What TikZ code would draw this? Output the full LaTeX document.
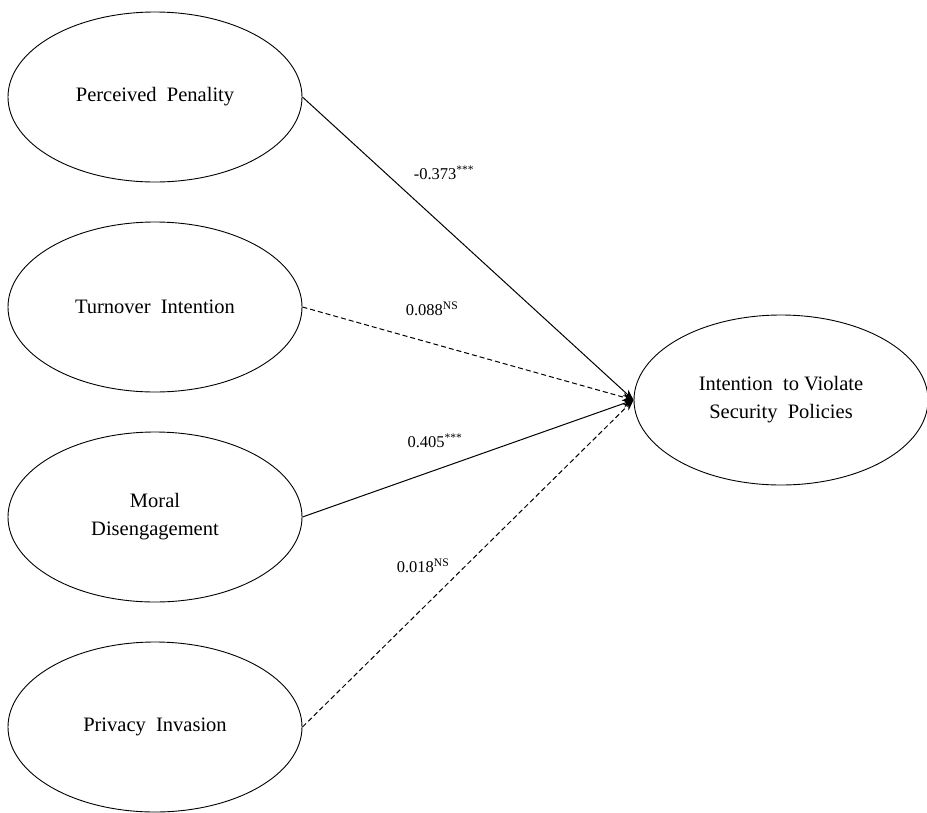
\documentclass[tikz,border=0pt]{standalone}
\usepackage{fontspec}
\setmainfont{Liberation Serif}
\usetikzlibrary{shapes.geometric,arrows.meta}
\begin{document}
\begin{tikzpicture}[x=1pt,y=-1pt,
  latent/.style={ellipse,draw,line width=0.9pt,minimum width=294pt,minimum height=170pt,inner sep=0pt,align=center,font=\fontsize{20.5}{28}\selectfont},
  path/.style={line width=1pt,-{Stealth[length=11pt,width=8pt]}},
  nspath/.style={path,dash pattern=on 5pt off 3pt},
  coef/.style={font=\fontsize{16.5}{20}\selectfont,inner sep=0pt}]
\useasboundingbox (0,0) rectangle (927,812);
\node[latent] (pp) at (155,97) {Perceived\ \ Penality};
\node[latent] (ti) at (155,307) {Turnover\ \ Intention};
\node[latent] (md) at (155,517) {Moral\\Disengagement};
\node[latent] (pi) at (155,727) {Privacy\ \ Invasion};
\node[latent] (iv) at (781,400) {Intention\ \ to Violate\\Security\ \ Policies};
\draw[path] (pp.east) -- (iv.west);
\draw[nspath] (ti.east) -- (iv.west);
\draw[path] (md.east) -- (iv.west);
\draw[nspath] (pi.east) -- (iv.west);
\node[coef] (l1) at (444,173) {-0.373\textsuperscript{***}};
\node[coef] (l2) at (432,309) {0.088\textsuperscript{NS}};
\node[coef] (l3) at (435,441) {0.405\textsuperscript{***}};
\node[coef] (l4) at (423,566) {0.018\textsuperscript{NS}};
\end{tikzpicture}
\end{document}
